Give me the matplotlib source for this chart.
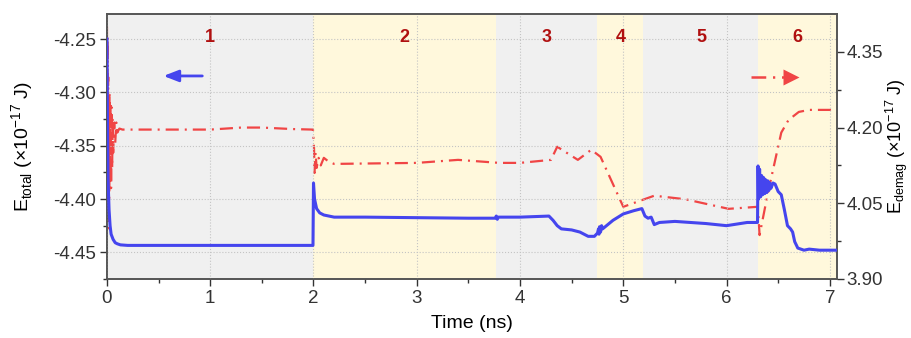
#energy vs time, two axes
import matplotlib
matplotlib.use('Agg')
import matplotlib.pyplot as plt
import numpy as np

plt.rcParams['font.family'] = ['Liberation Sans', 'DejaVu Sans']

# total energy (left axis), x1e-17 J
t_total = [0, 0.005, 0.01, 0.02, 0.03, 0.04, 0.06, 0.08, 0.1, 0.13, 0.2, 0.5, 1.0, 1.5, 1.995,
           2.0, 2.01, 2.03, 2.06, 2.1, 2.2, 2.5, 3.0, 3.5, 3.76, 3.77, 3.78, 3.79, 4.0, 4.28,
           4.32, 4.36, 4.4, 4.5, 4.58, 4.62, 4.66, 4.72, 4.75, 4.76, 4.765, 4.77, 4.78, 4.79,
           4.8, 4.85, 4.9, 5.0, 5.1, 5.18, 5.21, 5.24, 5.27, 5.3, 5.35, 5.5, 5.8, 6.0, 6.2,
           6.3, 6.305, 6.31, 6.32, 6.33, 6.34, 6.35, 6.36, 6.37, 6.38, 6.39, 6.40, 6.41, 6.42,
           6.43, 6.45, 6.47, 6.5, 6.53, 6.56, 6.59, 6.62, 6.64, 6.66, 6.69, 6.72, 6.75, 6.8,
           6.9, 7.07]
e_total = [-4.25, -4.33, -4.38, -4.41, -4.425, -4.433, -4.438, -4.441, -4.442, -4.443, -4.4435,
           -4.4435, -4.4435, -4.4435, -4.4435,
           -4.385, -4.400, -4.409, -4.413, -4.415, -4.417, -4.417, -4.4175, -4.418, -4.418,
           -4.416, -4.419, -4.417, -4.417, -4.416,
           -4.420, -4.425, -4.428, -4.429, -4.431, -4.433, -4.435, -4.435, -4.432, -4.428,
           -4.433, -4.426, -4.431, -4.425,
           -4.428, -4.424, -4.420, -4.414, -4.411, -4.409, -4.416, -4.418, -4.417, -4.424,
           -4.422, -4.421, -4.423, -4.425, -4.422,
           -4.422, -4.369, -4.400, -4.372, -4.398, -4.378, -4.396, -4.380, -4.395, -4.382,
           -4.394, -4.383, -4.392, -4.385,
           -4.390, -4.385, -4.386, -4.393, -4.396, -4.410, -4.425, -4.428, -4.431, -4.440,
           -4.446, -4.447, -4.448, -4.447,
           -4.448, -4.448]

# demag energy (right axis), x1e-17 J
t_demag = [0, 0.003, 0.006, 0.009, 0.012, 0.015, 0.018, 0.021, 0.025, 0.03, 0.035, 0.04,
           0.045, 0.05, 0.055, 0.06, 0.07, 0.08, 0.09, 0.1, 0.12, 0.15, 0.6, 1.0, 1.3, 1.5,
           1.8, 1.995, 2.005, 2.01, 2.02, 2.03, 2.05, 2.07, 2.1, 2.15, 2.2, 3.0, 3.4, 3.8,
           4.0, 4.3, 4.36, 4.56, 4.69, 4.78, 5.0, 5.19, 5.3, 5.6, 6.02, 6.3, 6.31, 6.32,
           6.4, 6.53, 6.6, 6.7, 6.8, 7.07]
e_demag = [4.40, 4.05, 4.38, 4.00, 4.30, 4.02, 4.26, 4.06, 4.27, 4.10, 4.25, 4.08,
           4.24, 4.12, 4.22, 4.15, 4.21, 4.17, 4.21, 4.19, 4.198, 4.196, 4.196, 4.196, 4.200, 4.200,
           4.197, 4.196, 4.16, 4.11, 4.15, 4.12, 4.14, 4.125, 4.14, 4.132, 4.128, 4.130, 4.136, 4.130,
           4.130, 4.136, 4.162, 4.136, 4.156, 4.142, 4.043, 4.057, 4.065, 4.058, 4.039, 4.043, 4.02, 3.987,
           4.07, 4.19, 4.215, 4.231, 4.235, 4.235]

# shaded stages
stage_edges = [0, 2.0, 3.77, 4.75, 5.19, 6.3, 7.07]
stage_labels = ['1', '2', '3', '4', '5', '6']
stage_label_x = [1.0, 2.88, 4.26, 4.98, 5.76, 6.69]

BLUE = '#4545ee'
RED = '#f04545'
DASHDOT = (0, (5.9, 2.7, 0.9, 2.7))

fig = plt.figure(figsize=(9.12, 3.38), dpi=100)
ax1 = fig.add_axes([0.1173, 0.1746, 0.8005, 0.784])
ax2 = ax1.twinx()

# stage shading sits on the back axes
for i in range(len(stage_labels)):
    c = '#f0f0f0' if i % 2 == 0 else '#fff8dc'
    ax2.axvspan(stage_edges[i], stage_edges[i+1], color=c, lw=0, zorder=0)
    ax1.text(stage_label_x[i], 0.913, stage_labels[i], transform=ax1.get_xaxis_transform(),
             color='#b01010', fontsize=13, fontweight='bold', ha='center', va='center')

ax2.plot(t_demag, e_demag, color=RED, lw=1.6, ls=DASHDOT, zorder=2)
ax1.plot(t_total, e_total, color=BLUE, lw=2.2, zorder=3)
ax1.set_zorder(ax2.get_zorder() + 1)
ax1.patch.set_visible(False)

ax1.grid(True, ls=':', color='#c4c4c4', lw=0.8)
ax1.set_axisbelow(True)

ax1.set_xlim(0, 7.07)
ax1.set_ylim(-4.4745, -4.2265)
ax2.set_ylim(3.90, 4.425)

ax1.set_xticks([0, 1, 2, 3, 4, 5, 6, 7])
ax1.set_xticks(np.arange(0.5, 7, 1.0), minor=True)
ax1.set_yticks([-4.45, -4.40, -4.35, -4.30, -4.25])
ax1.set_yticks([-4.475, -4.425, -4.375, -4.325, -4.275], minor=True)
ax2.set_yticks([3.90, 4.05, 4.20, 4.35])
ax2.set_yticks([3.975, 4.125, 4.275], minor=True)
ax1.set_yticklabels(['-4.45', '-4.40', '-4.35', '-4.30', '-4.25'])

for ax in (ax1, ax2):
    ax.tick_params(which='major', direction='out', length=5, width=1, labelsize=13.5,
                   colors='#333333', pad=3)
    ax.tick_params(which='minor', direction='out', length=3, width=1, colors='#333333')
    for s in ax.spines.values():
        s.set_color('#555555')
        s.set_linewidth(1.2)
ax2.tick_params(which='major', pad=2)

ax1.set_xlabel('Time (ns)', fontsize=14, labelpad=6)
ax1.set_ylabel('E$_{\\mathregular{total}}$ (×10$^{\\mathregular{-17}}$ J)', fontsize=14, labelpad=12)
ax2.set_ylabel('E$_{\\mathregular{demag}}$ (×10$^{\\mathregular{-17}}$ J)', fontsize=13, labelpad=0)

# direction arrows
ax1.annotate('', xy=(0.52, -4.2846), xytext=(0.95, -4.2846),
             arrowprops=dict(arrowstyle='-|>,head_width=0.35,head_length=0.9', color=BLUE, lw=2))
ax2.plot([6.24, 6.56], [4.30, 4.30], color=RED, lw=1.8, ls=DASHDOT)
ax2.plot([6.62], [4.30], marker='>', ms=11, color=RED, mec='none')

fig.savefig('out.png', dpi=100)
